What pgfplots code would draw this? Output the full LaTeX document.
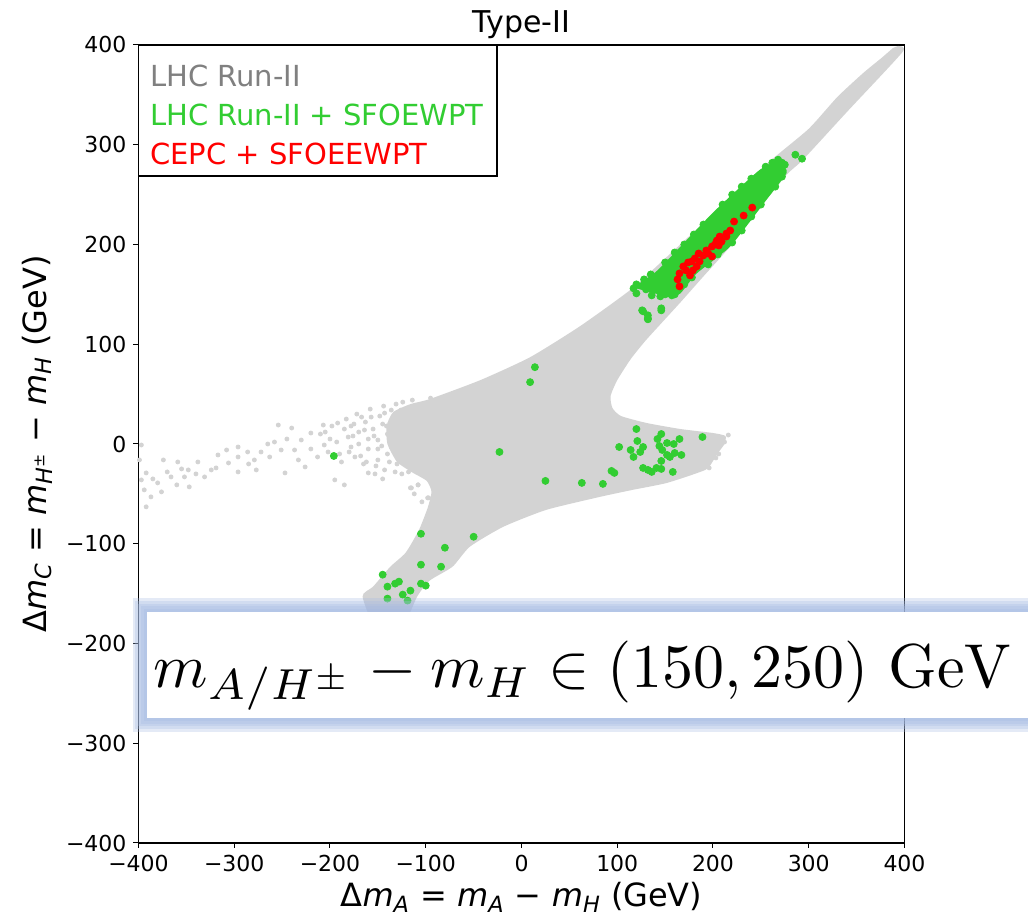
\documentclass[border=0pt]{standalone}
\usepackage[no-math]{fontspec}
\setmainfont{DejaVu Sans}
\usepackage{graphicx}
\usepackage{pgfplots}
\pgfplotsset{compat=1.18}

\definecolor{lgray}{RGB}{211,211,211}
\definecolor{lgreen}{RGB}{50,205,50}
\definecolor{pred}{RGB}{255,0,0}
\definecolor{tgray}{RGB}{128,128,128}
\definecolor{boxblue}{RGB}{165,186,226}

\newcommand{\mi}[1]{\textit{#1}}

\begin{document}
\begin{tikzpicture}
\begin{axis}[
  name=ax, at={(0,0)}, anchor=south west,
  scale only axis, width=383pt, height=399pt,
  xmin=-400, xmax=400, ymin=-400, ymax=400,
  xtick={-400,-300,...,400}, ytick={-400,-300,...,400},
  xticklabels={−400,−300,−200,−100,0,100,200,300,400},
  yticklabels={−400,−300,−200,−100,0,100,200,300,400},
  xtick pos=bottom, ytick pos=left,
  tick align=outside, major tick length=2.5pt,
  tick style={black, line width=0.5pt},
  axis line style={line width=0.6pt},
  tick label style={font=\fontsize{11}{13}\selectfont},
]
% allowed region (LHC Run-II), dense part
\addplot[draw=none, fill=lgray, smooth, tension=0.35] coordinates {
 (393,399) (398,393) (340,333) (294,285) (277,270) (246,233) (218,198)
 (190,168) (166,142) (146,121) (129,103) (114,85) (100,64) (93,48) (95,36)
 (104,28) (131,21) (166,15) (200,11) (213,8) (212,0)
 (206,-8) (200,-17) (192,-26) (152,-39) (116,-46) (82,-53) (26,-66)
 (-19,-83) (-54,-103) (-72,-123) (-96,-137) (-109,-153) (-125,-185)
 (-150,-190) (-166,-153) (-155,-143) (-137,-123) (-121,-109) (-107,-86)
 (-98,-64) (-94,-48) (-99,-37) (-115,-28) (-130,-18) (-140,0) (-141,18)
 (-134,32) (-116,40) (-96,45) (-43,64) (9,87) (61,118) (113,154) (150,186)
 (186,218) (225,252) (260,284) (300,316) (330,348) (357,372) (376,387)
 (388,397)} -- cycle;
% allowed region (LHC Run-II), sparse points
\addplot[only marks, mark=*, mark size=1pt, draw=lgray, fill=lgray] coordinates {
 (-397,-1) (-399,-16) (-392,-29) (-394,-46) (-387,-53) (-392,-63) (-380,-39)
 (-374,-16) (-366,-33) (-359,-18) (-360,-41) (-347,-43) (-348,-26) (-338,-18)
 (-331,-33) (-319,-24) (-317,-11) (-308,-6) (-296,-3) (-286,-8) (-279,-16)
 (-277,-26) (-272,-8) (-258,2) (-254,19) (-251,-6) (-247,-29) (-240,16)
 (-237,-6) (-230,4) (-226,-23) (-220,11) (-213,-13) (-207,19) (-206,-1)
 (-195,-36) (-192,21) (-185,-41) (-181,7) (-174,-13) (-164,14) (-160,-29)
 (-157,27) (-150,-16) (-143,31) (-143,-26) (-136,-3) (-126,34) (-115,-44)
 (-108,-41) (-98,-54) (-397,-36) (-376,-48) (-352,-33) (-324,-26) (-306,-19)
 (-296,-13) (-263,-13) (-233,-16) (-296,-28) (-178,-3) (-167,27) (-150,4)
 (-200,5) (-190,-10) (-185,15) (-175,20) (-170,0) (-165,-20) (-160,5)
 (-155,15) (-150,-5) (-145,20) (-140,10) (-140,-10) (-135,25) (-130,15)
 (-130,-20) (-210,10) (-220,-5) (-245,5) (-265,0) (-285,-20) (-340,-30)
 (-355,-25) (-370,-28) (-385,-35) (-116,-44) (-108,-41) (-97,-54)
 (-205,12) (-202,-8) (-198,18) (-193,2) (-188,-18) (-183,25) (-180,-8)
 (-176,8) (-172,30) (-168,-12) (-163,22) (-160,-5) (-158,35) (-154,8)
 (-152,-22) (-148,28) (-146,-2) (-144,38) (-141,18) (-138,-18) (-136,34)
 (-133,5) (-131,40) (-128,-8) (-126,22) (-124,42) (-121,-14) (-119,10)
 (-117,30) (-114,44) (-112,-18) (-110,0) (-108,20) (-105,38) (-102,-25)
 (-100,8) (-98,28) (-95,46) (-118,-28) (-125,-30) (-132,-28) (-145,-35)
 (-112,-50) (-104,-58) (-153,-30) (-162,-18) (-170,12) (-178,18)
 (216,9) (212,2) (206,-10) (203,-14) (196,-24)};
% LHC Run-II + SFOEWPT, dense band
\addplot[draw=none, fill=lgreen, smooth, tension=0.3] coordinates {
 (116,157) (142,174) (200,232) (249,275) (270,282) (277,272) (256,245)
 (218,198) (183,171) (166,151) (155,147)} -- cycle;
% LHC Run-II + SFOEWPT, points
\addplot[only marks, mark=*, mark size=1.75pt, draw=lgreen, fill=lgreen] coordinates {
 (120,160) (128,165) (135,170) (150,182) (160,192) (170,200) (180,210)
 (190,220) (210,240) (220,250) (230,258) (240,266) (255,278) (262,282)
 (268,285) (275,280) (272,268) (265,258) (250,240) (240,228) (230,214)
 (220,202) (205,190) (195,180) (178,167) (170,160) (160,150) (150,150)
 (140,155) (130,155)
 (286,290) (293,286) (272,282) (117,156) (120,151) (136,149) (145,148)
 (126,134) (132,126) (146,136) (157,149)
 (127,133) (132,129) (132,125) (146,134) (14,77) (9,62)
 (120,15) (146,10) (189,7) (165,5) (142,5) (121,3) (152,1) (159,0)
 (127,-3) (102,-3) (114,-6) (124,-8) (144,-2) (147,-6) (152,-11) (160,-9)
 (167,-11) (117,-13) (146,-17) (155,-13) (127,-24) (132,-26) (136,-28)
 (141,-24) (146,-25) (158,-28) (94,-27) (97,-29) (85,-40) (63,-39) (25,-37)
 (-23,-8) (-196,-12)
 (-105,-90) (-50,-93) (-80,-104) (-105,-121) (-84,-123) (-145,-131)
 (-140,-143) (-132,-140) (-128,-138) (-105,-140) (-100,-142) (-116,-147)
 (-124,-151) (-140,-155) (-119,-157)};
% CEPC + SFOEEWPT
\addplot[only marks, mark=*, mark size=1.75pt, draw=pred, fill=pred] coordinates {
 (241,237) (232,229) (222,223) (218,214) (214,211) (207,208) (204,204)
 (202,200) (199,198) (206,199) (193,194) (190,189) (185,191) (181,186)
 (178,183) (174,182) (169,178) (165,171) (176,169) (163,165) (165,158)
 (183,178) (186,183) (195,191) (209,203) (214,208) (199,188) (179,174)
 (172,174)};
\end{axis}

% legend
\draw[line width=0.6pt, fill=white] (0,399pt) rectangle (179.25pt,333.5pt);
\begin{scope}[every node/.style={anchor=base west, inner sep=0pt, font=\fontsize{14.5}{17}\selectfont}]
  \node[text=tgray]  at (5.6pt,378pt)   {LHC Run-II};
  \node[text=lgreen] at (5.6pt,358.5pt) {LHC Run-II + SFOEWPT};
  \node[text=pred]   at (5.6pt,339pt)   {CEPC + SFOEEWPT};
\end{scope}

% title and axis labels
\node[anchor=base, inner sep=0pt, font=\fontsize{15}{18}\selectfont] at (191.5pt,405pt) {Type-II};
\node[anchor=base, inner sep=0pt, font=\fontsize{16}{19}\selectfont] at (191.5pt,-32pt)
  {Δ\mi{m}\textsubscript{\mi{A}} = \mi{m}\textsubscript{\mi{A}} − \mi{m}\textsubscript{\mi{H}} (GeV)};
\node[anchor=base, rotate=90, inner sep=0pt, font=\fontsize{16}{19}\selectfont] at (-46pt,199.5pt)
  {Δ\mi{m}\textsubscript{\mi{C}} = \mi{m}\textsubscript{\mi{H}\textsuperscript{±}} − \mi{m}\textsubscript{\mi{H}} (GeV)};

% highlighted mass window
\foreach \d in {7,5.6,4.2,2.8,1.4}{
  \fill[boxblue, opacity=0.3] (4.1pt-\d pt,62.5pt-\d pt) rectangle (470pt,115.5pt+\d pt);
}
\fill[white] (4.1pt,62.5pt) rectangle (470pt,115.5pt);
\node[anchor=base west, inner sep=0pt] at (7.25pt,77.5pt)
  {\resizebox{429.5pt}{!}{$m_{A/H^\pm}-m_H\in(150,250)\ \mathrm{GeV}$}};

\pgfresetboundingbox
\path[use as bounding box] (-69.25pt,-38pt) rectangle (444.75pt,421.5pt);
\end{tikzpicture}
\end{document}
